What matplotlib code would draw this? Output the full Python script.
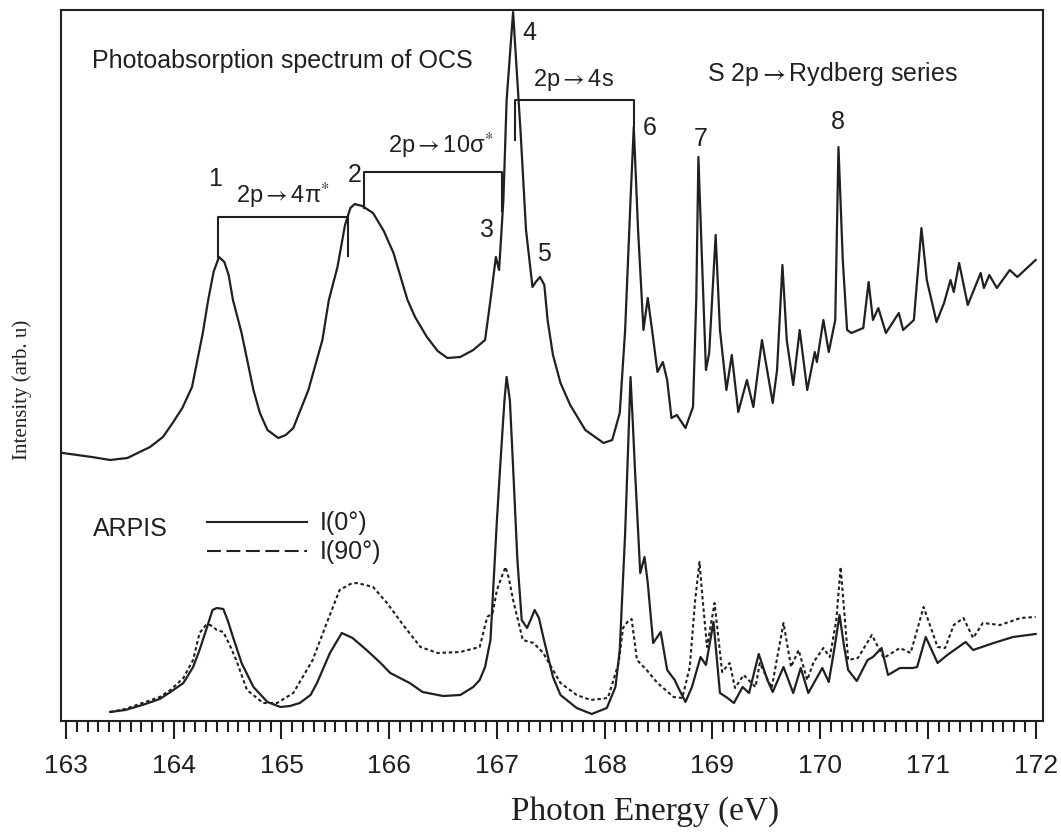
import matplotlib
matplotlib.use("Agg")
import matplotlib.pyplot as plt
from matplotlib.lines import Line2D
from matplotlib.ticker import MultipleLocator

# photoabsorption spectrum (top curve), energy in eV, intensity arb. units
top_energy = [162.97, 163.24, 163.41, 163.57, 163.78, 163.90, 163.99, 164.08, 164.17, 164.27, 164.32, 164.37,
              164.42, 164.47, 164.51, 164.55, 164.63, 164.74, 164.80, 164.87, 164.97, 165.04, 165.11, 165.25,
              165.38, 165.44, 165.52, 165.59, 165.64, 165.68, 165.75, 165.85, 165.95, 166.04, 166.17,
              166.24, 166.35, 166.45, 166.54, 166.66, 166.78, 166.89, 166.94, 166.99, 167.02, 167.06,
              167.09, 167.15, 167.22, 167.27, 167.33, 167.36, 167.40, 167.44, 167.47, 167.52,
              167.59, 167.68, 167.82, 167.99, 168.07, 168.14, 168.19, 168.24, 168.27, 168.31,
              168.36, 168.40, 168.44, 168.49, 168.54, 168.58, 168.62, 168.67, 168.75, 168.82,
              168.85, 168.87, 168.90, 168.94, 168.97, 169.03, 169.07, 169.13, 169.18, 169.24,
              169.32, 169.38, 169.46, 169.56, 169.60, 169.65, 169.69, 169.75, 169.81, 169.88,
              169.95, 169.97, 170.03, 170.08, 170.14, 170.17, 170.21, 170.25, 170.29, 170.40,
              170.45, 170.49, 170.54, 170.61, 170.73, 170.77, 170.87, 170.94, 170.99, 171.08,
              171.15, 171.21, 171.24, 171.29, 171.37, 171.49, 171.52, 171.57, 171.64, 171.76,
              171.83, 172.00]
top_intensity = [268, 264, 261, 263, 274, 284, 298, 313, 334, 388, 421, 449,
                 464, 459, 446, 421, 388, 331, 308, 291, 283, 286, 293, 331,
                 381, 421, 454, 496, 513, 517, 515, 508, 490, 468, 421,
                 404, 384, 370, 363, 364, 371, 381, 421, 464, 451, 521,
                 621, 709, 588, 491, 434, 439, 444, 436, 401, 366,
                 338, 316, 291, 278, 281, 308, 391, 521, 594, 491,
                 391, 423, 391, 349, 359, 341, 303, 306, 293, 314,
                 421, 564, 471, 351, 368, 486, 391, 331, 366, 309,
                 341, 314, 381, 318, 351, 456, 381, 336, 391, 331,
                 369, 359, 401, 369, 401, 574, 461, 391, 388, 393,
                 439, 401, 413, 388, 408, 391, 401, 493, 441, 399,
                 418, 441, 429, 458, 416, 448, 433, 446, 433, 451,
                 444, 461]

# ARPIS I(0 deg)
i0_energy = [163.41, 163.55, 163.71, 163.87, 163.97, 164.09, 164.18, 164.24, 164.31, 164.36,
             164.40, 164.46, 164.50, 164.55, 164.63, 164.74, 164.87, 164.99, 165.08, 165.17,
             165.27, 165.33, 165.45, 165.56, 165.66, 165.79, 165.92, 166.01, 166.19, 166.31,
             166.50, 166.66, 166.78, 166.84, 166.89, 166.94, 166.96, 167.00, 167.03, 167.07,
             167.09, 167.12, 167.15, 167.19, 167.23, 167.28, 167.32, 167.35, 167.39, 167.43,
             167.52, 167.59, 167.74, 167.88, 168.02, 168.10, 168.14, 168.19, 168.22, 168.24,
             168.26, 168.28, 168.33, 168.37, 168.40, 168.45, 168.52, 168.58, 168.65, 168.68,
             168.75, 168.81, 168.89, 168.94, 169.01, 169.07, 169.14, 169.20, 169.28, 169.34,
             169.43, 169.51, 169.56, 169.66, 169.75, 169.82, 169.89, 170.02, 170.08, 170.13,
             170.18, 170.22, 170.26, 170.34, 170.44, 170.49, 170.57, 170.63, 170.74, 170.86,
             170.90, 170.98, 171.09, 171.18, 171.35, 171.42, 171.61, 171.79, 172.00]
i0_intensity = [9, 11, 16, 22, 29, 38, 54, 71, 94, 111,
                113, 112, 101, 84, 58, 34, 19, 14, 15, 18,
                26, 38, 68, 88, 83, 71, 58, 48, 38, 29,
                25, 26, 34, 41, 54, 81, 121, 201, 254, 321,
                344, 321, 254, 161, 101, 93, 103, 111, 103, 84,
                44, 26, 13, 7, 13, 34, 71, 188, 281, 344,
                301, 254, 148, 164, 138, 78, 89, 51, 41, 34,
                19, 34, 64, 56, 99, 28, 23, 18, 34, 28,
                67, 41, 29, 54, 28, 53, 28, 53, 39, 71,
                106, 76, 51, 40, 61, 64, 73, 46, 53, 53,
                54, 84, 58, 66, 79, 71, 78, 84, 87]

# ARPIS I(90 deg)
i90_energy = [163.41, 163.55, 163.71, 163.87, 163.97, 164.09, 164.18, 164.24, 164.30, 164.34,
              164.40, 164.46, 164.52, 164.58, 164.68, 164.83, 164.96, 165.11, 165.29, 165.42,
              165.54, 165.64, 165.70, 165.78, 165.85, 165.98, 166.13, 166.29, 166.45, 166.66,
              166.84, 166.91, 166.96, 167.00, 167.05, 167.08, 167.11, 167.15, 167.24, 167.34,
              167.43, 167.52, 167.59, 167.74, 167.87, 168.03, 168.13, 168.17, 168.21, 168.25,
              168.30, 168.39, 168.49, 168.64, 168.72, 168.79, 168.84, 168.88, 168.91, 168.95,
              169.02, 169.09, 169.16, 169.21, 169.29, 169.40, 169.44, 169.55, 169.66, 169.73,
              169.80, 169.88, 169.94, 170.03, 170.09, 170.15, 170.19, 170.23, 170.26, 170.35,
              170.48, 170.59, 170.74, 170.84, 170.96, 171.09, 171.16, 171.24, 171.33, 171.42,
              171.51, 171.67, 171.86, 172.00]
i90_intensity = [9, 12, 18, 24, 31, 43, 61, 88, 96, 96,
                 91, 89, 76, 61, 31, 18, 18, 28, 61, 98,
                 131, 137, 138, 136, 134, 118, 96, 74, 68, 69,
                 74, 104, 108, 131, 146, 154, 143, 121, 81, 78,
                 68, 51, 38, 26, 21, 23, 58, 93, 99, 102,
                 61, 51, 38, 24, 23, 54, 121, 159, 121, 74,
                 118, 49, 58, 33, 46, 34, 58, 33, 98, 54,
                 71, 41, 59, 73, 64, 101, 154, 101, 61, 63,
                 86, 63, 73, 68, 114, 74, 73, 96, 103, 83,
                 98, 96, 103, 104]

# peak numbering
peak_labels = ['1', '2', '3', '4', '5', '6', '7', '8']
peak_energy = [164.38, 165.68, 166.91, 167.30, 167.44, 168.42, 168.89, 170.16]
peak_height = [542, 546, 491, 688, 467, 593, 582, 599]

# assignment brackets
bracket_names = ['2p$\\rightarrow$4\u03c0$^{*}$', '2p$\\rightarrow$10\u03c3$^{*}$', '2p$\\rightarrow$4s']
bracket_left = [164.41, 165.77, 167.17]
bracket_right = [165.62, 167.05, 168.27]
bracket_top = [504, 549, 621]
bracket_left_end = [464, 513, 581]
bracket_right_end = [465, 510, 594]
bracket_text_x = [165.01, 166.48, 167.71]
bracket_text_y = [525, 575, 641]

ink = '#231f20'
narrow = ['Liberation Sans Narrow', 'Liberation Sans', 'DejaVu Sans']
sans = ['Liberation Sans', 'DejaVu Sans']
serif = ['Liberation Serif', 'DejaVu Serif']
plt.rcParams['mathtext.fontset'] = 'stix'
plt.rcParams['lines.scale_dashes'] = False

fig = plt.figure(figsize=(10.61, 8.34), dpi=100)
ax = fig.add_axes([0.0575, 0.1355, 0.9255, 0.8525])

ax.plot(top_energy, top_intensity, color=ink, lw=1.6)
ax.plot(i0_energy, i0_intensity, color=ink, lw=1.6)
ax.plot(i90_energy, i90_intensity, color=ink, lw=1.5, dashes=(2.5, 2.0))

for i in range(len(bracket_names)):
    ax.plot([bracket_left[i], bracket_left[i], bracket_right[i], bracket_right[i]],
            [bracket_left_end[i], bracket_top[i], bracket_top[i], bracket_right_end[i]],
            color=ink, lw=1.5)
    ax.text(bracket_text_x[i], bracket_text_y[i], bracket_names[i], family=narrow,
            fontsize=17, ha='center', va='center', color=ink)

for lab, e, h in zip(peak_labels, peak_energy, peak_height):
    ax.text(e, h, lab, family=narrow, fontsize=18, ha='center', va='center', color=ink)

ax.text(0.032, 0.928, 'Photoabsorption spectrum of OCS', transform=ax.transAxes,
        family=sans, fontsize=18, ha='left', va='center', color=ink)
ax.text(0.658, 0.91, 'S 2p$\\rightarrow$Rydberg series', transform=ax.transAxes,
        family=sans, fontsize=18, ha='left', va='center', color=ink)
ax.text(0.033, 0.27, 'ARPIS', transform=ax.transAxes,
        family=sans, fontsize=18, ha='left', va='center', color=ink)

handles = [Line2D([], [], color=ink, lw=1.5),
           Line2D([], [], color=ink, lw=1.5, dashes=(10, 4))]
leg = ax.legend(handles, ['I(0\u00b0)', 'I(90\u00b0)'], loc='upper left',
                bbox_to_anchor=(0.1485, 0.295), frameon=False, borderpad=0,
                borderaxespad=0, handlelength=4.0, handletextpad=0.5,
                labelspacing=0.2, prop={'family': sans, 'size': 18})
for t in leg.get_texts():
    t.set_color(ink)

ax.set_xlim(162.954, 172.068)
ax.set_ylim(0, 711)
ax.xaxis.set_major_locator(MultipleLocator(1))
ax.xaxis.set_minor_locator(MultipleLocator(0.1))
ax.set_yticks([])
ax.tick_params(axis='x', which='major', direction='out', length=13, width=1.5,
               color=ink, labelsize=19, pad=11, labelcolor=ink)
ax.tick_params(axis='x', which='minor', direction='out', length=8, width=1.5, color=ink)
for lab in ax.get_xticklabels():
    lab.set_family(narrow)
for sp in ax.spines.values():
    sp.set_linewidth(1.5)
    sp.set_color(ink)

fig.text(645 / 1061, 1 - 812 / 834, 'Photon Energy (eV)', family=serif, fontsize=24,
         ha='center', va='center', color=ink)
fig.text(22 / 1061, 1 - 390 / 834, 'Intensity (arb. u)', family=serif, fontsize=15,
         rotation=90, ha='center', va='center', color=ink)

fig.savefig('out.png', dpi=100)
